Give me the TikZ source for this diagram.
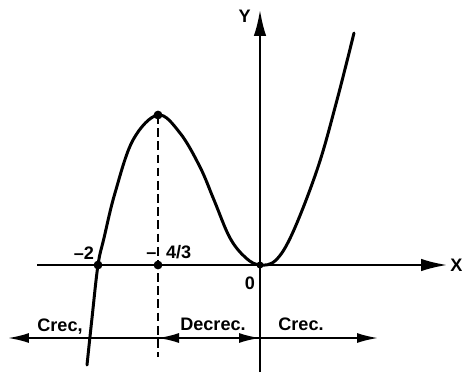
\documentclass[tikz,border=0pt]{standalone}
\usepackage{fontspec}
\setmainfont{Liberation Sans}
\usetikzlibrary{arrows.meta}
\begin{document}
\begin{tikzpicture}[x=0.02cm,y=-0.02cm,
  axis/.style={line width=1.1pt},
  bigtip/.style={-{Latex[length=0.52cm,width=0.25cm]}},
  smalltip/.style={-{Latex[length=0.42cm,width=0.2cm]}},
  curve/.style={line width=1.7pt,line join=round,line cap=round},
  guide/.style={line width=1.2pt,dash pattern=on 5pt off 2.5pt},
  lbl/.style={font=\fontsize{10.3}{12}\selectfont\bfseries,inner sep=0pt},
  dot/.style={circle,fill=black,inner sep=0pt,minimum size=5pt}]
\useasboundingbox (0,0) rectangle (462,372);
% key coordinates
\coordinate (O) at (260,265);
\coordinate (xs) at (37,265);
\coordinate (xe) at (447,265);
\coordinate (ys) at (260,372);
\coordinate (ye) at (260,10);
\coordinate (top) at (158,115);
\coordinate (dbot) at (158,357);
\coordinate (aL) at (8,338);
\coordinate (aM) at (158,338);
\coordinate (aO) at (260,338);
\coordinate (aR) at (378,338);
% axes
\draw[axis,bigtip] (xs) -- (xe);
\draw[axis,bigtip] (ys) -- (ye);
\node[lbl,anchor=west] (X) at (450,265) {X};
\node[lbl,anchor=east] (Y) at (251,16) {Y};
% dashed guide
\draw[guide] (top) -- (dbot);
% curve
\draw[curve] plot[smooth,tension=0.6] coordinates {(87,365) (92,318) (98,265) (104,238) (115,193) (133,140) (158,115) (180,133) (200,167) (214,200) (230,238) (246,258) (260,265) (276,260) (293,232) (318,167) (337,100) (354,33)};
% points
\node[dot] (pm2) at (98,265) {};
\node[dot] (p43) at (158,265) {};
\node[dot] (pmax) at (top) {};
\node[dot,minimum size=4pt] (p0) at (O) {};
% labels on axis
\node[lbl] (l2) at (84,253) {–2};
\node[lbl,anchor=west] (l43) at (146,252) {–\hspace{5.5pt}4/3};
\node[lbl] (l0) at (250,283) {0};
% monotonicity arrows
\draw[axis,smalltip] (aM) -- (aL);
\draw[axis,smalltip] (aO) -- (aM);
\draw[axis,smalltip] (aM) -- (aO);
\draw[axis,smalltip] (aO) -- (aR);
\node[lbl,anchor=base] (c1) at (60,331) {Crec,};
\node[lbl,anchor=base] (d1) at (213,330) {Decrec.};
\node[lbl,anchor=base] (c2) at (301,330) {Crec.};
\end{tikzpicture}
\end{document}
